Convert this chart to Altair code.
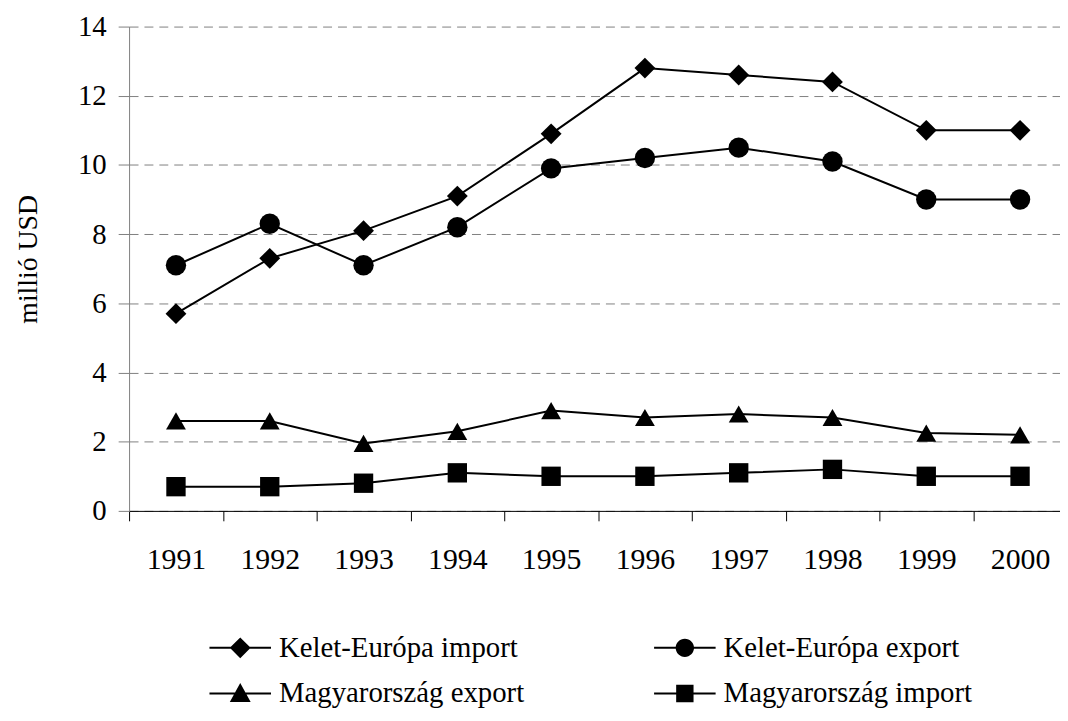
import altair as alt
import pandas as pd

years = ["1991", "1992", "1993", "1994", "1995", "1996", "1997", "1998", "1999", "2000"]
series_names = ["Kelet-Európa import", "Kelet-Európa export",
                "Magyarország export", "Magyarország import"]
ke_import = [5.7, 7.3, 8.1, 9.1, 10.9, 12.8, 12.6, 12.4, 11.0, 11.0]
ke_export = [7.1, 8.3, 7.1, 8.2, 9.9, 10.2, 10.5, 10.1, 9.0, 9.0]
hu_export = [2.6, 2.6, 1.95, 2.3, 2.9, 2.7, 2.8, 2.7, 2.25, 2.2]
hu_import = [0.7, 0.7, 0.8, 1.1, 1.0, 1.0, 1.1, 1.2, 1.0, 1.0]
y_ticks = [0, 2, 4, 6, 8, 10, 12, 14]
y_title = "millió USD"

marker_shapes = ["diamond", "circle", "triangle-up", "square"]
marker_sizes = [441, 380, 480, 361]
LINE = "M-1.24,-0.04H1.24V0.04H-1.24Z"
legend_symbols = [
    LINE + "M-0.42,0L0,-0.42L0.42,0L0,0.42Z",
    LINE + "M-0.37,0A0.37,0.37,0,1,1,0.37,0A0.37,0.37,0,1,1,-0.37,0Z",
    LINE + "M0,-0.42L0.42,0.34L-0.42,0.34Z",
    LINE + "M-0.35,-0.35H0.35V0.35H-0.35Z",
]

FONT = "Liberation Serif"

rows = []
for name, vals in zip(series_names, [ke_import, ke_export, hu_export, hu_import]):
    for yr, v in zip(years, vals):
        rows.append({"year": yr, "series": name, "value": v})
df = pd.DataFrame(rows)

x_enc = alt.X(
    "year:O",
    sort=years,
    scale=alt.Scale(type="band", domain=years, range=[0, 945],
                    paddingInner=0, paddingOuter=0),
    axis=alt.Axis(title=None, labelAngle=0, tickBand="extent", tickSize=10,
                  tickColor="black", domainColor="black", domainWidth=1,
                  labelFont=FONT, labelFontSize=30, labelColor="black",
                  labelPadding=24, grid=False),
)
y_enc = alt.Y(
    "value:Q",
    scale=alt.Scale(domain=[0, 14], nice=False),
    axis=alt.Axis(values=y_ticks, title=y_title, titleFont=FONT, titleFontSize=28,
                  titleFontWeight="normal", titleColor="black", titleAngle=270,
                  titleX=-93, titleY=234, titleAlign="center",
                  titleBaseline="alphabetic",
                  grid=True, gridDash=[9, 6], gridColor="#808080", gridWidth=1,
                  tickSize=11, tickColor="#808080", domainColor="#808080",
                  labelFont=FONT, labelFontSize=29, labelColor="black",
                  labelPadding=12),
)

base = alt.Chart(df)

lines = base.mark_line(color="black", strokeWidth=2).encode(
    x=x_enc, y=y_enc, detail="series:N"
)

points = base.mark_point(filled=True, color="black", opacity=1).encode(
    x=x_enc, y=y_enc,
    shape=alt.Shape("series:N", scale=alt.Scale(domain=series_names, range=marker_shapes),
                    legend=None),
    size=alt.Size("series:N", scale=alt.Scale(domain=series_names, range=marker_sizes),
                  legend=None),
)

legend_layer = base.transform_filter("false").mark_point(
    filled=True, color="black", size=2500, opacity=1
).encode(
    shape=alt.Shape(
        "series:N",
        scale=alt.Scale(domain=series_names, range=legend_symbols),
        legend=alt.Legend(
            title=None, orient="none", legendX=87, legendY=601, columns=2,
            direction="horizontal", symbolSize=2500,
            symbolFillColor="black", symbolStrokeWidth=0,
            labelFont=FONT, labelFontSize=29, labelColor="black", labelOffset=14,
            columnPadding=130, rowPadding=6, padding=0, labelLimit=400,
        ),
    )
)

chart = alt.layer(lines, points, legend_layer).resolve_scale(
    shape="independent", size="independent"
).properties(
    width=938, height=488,
    autosize=alt.AutoSizeParams(type="none"),
    padding={"left": 122, "top": 16, "right": 0, "bottom": 209},
    background="white",
).configure_view(stroke=None).configure_axis(
    titleFont=FONT, labelFont=FONT
).configure_legend(labelFont=FONT)

chart.save("out.html", embed_options={"renderer": "svg", "actions": False})
